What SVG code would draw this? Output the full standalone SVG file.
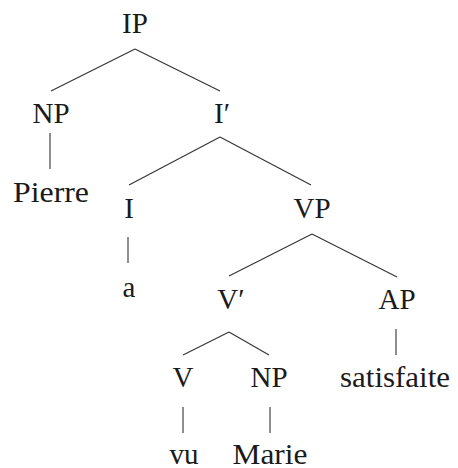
<svg xmlns="http://www.w3.org/2000/svg" width="458" height="468" viewBox="0 0 458 468">
<style>
text{font-family:"Liberation Serif","Times New Roman",serif;font-size:29px;fill:#1a1a1a;text-anchor:middle}
.e line{stroke:#333;stroke-width:1.1}
</style>
<rect width="458" height="468" fill="#fff"/>
<g class="e" id="connectors">
<line x1="135" y1="49" x2="51" y2="91"/>
<line x1="135" y1="49" x2="220" y2="91"/>
<line x1="50" y1="133" x2="50" y2="169"/>
<line x1="220" y1="137" x2="129" y2="185"/>
<line x1="220" y1="137" x2="311" y2="185"/>
<line x1="128" y1="237" x2="128" y2="263"/>
<line x1="312" y1="234" x2="229" y2="276"/>
<line x1="312" y1="234" x2="397" y2="277"/>
<line x1="229" y1="332" x2="183" y2="355"/>
<line x1="229" y1="332" x2="269" y2="355"/>
<line x1="396" y1="329" x2="396" y2="355"/>
<line x1="183" y1="407" x2="183" y2="433"/>
<line x1="270" y1="407" x2="270" y2="433"/>
</g>
<g id="n-IP"><text x="135" y="33">IP</text></g>
<g id="n-NP1"><text x="51" y="123">NP</text></g>
<g id="n-Pierre"><text x="51" y="202" textLength="76" lengthAdjust="spacingAndGlyphs">Pierre</text></g>
<g id="n-Ibar"><text x="222" y="123">I′</text></g>
<g id="n-I"><text x="129" y="218">I</text></g>
<g id="n-a"><text x="129" y="297">a</text></g>
<g id="n-VP"><text x="312" y="218">VP</text></g>
<g id="n-Vbar"><text x="231" y="309">V′</text></g>
<g id="n-AP"><text x="397" y="309">AP</text></g>
<g id="n-satisfaite"><text x="395" y="387" textLength="110" lengthAdjust="spacingAndGlyphs">satisfaite</text></g>
<g id="n-V"><text x="183" y="387">V</text></g>
<g id="n-NP2"><text x="269" y="387">NP</text></g>
<g id="n-vu"><text x="184" y="464">vu</text></g>
<g id="n-Marie"><text x="270" y="464" textLength="75" lengthAdjust="spacingAndGlyphs">Marie</text></g>
</svg>
